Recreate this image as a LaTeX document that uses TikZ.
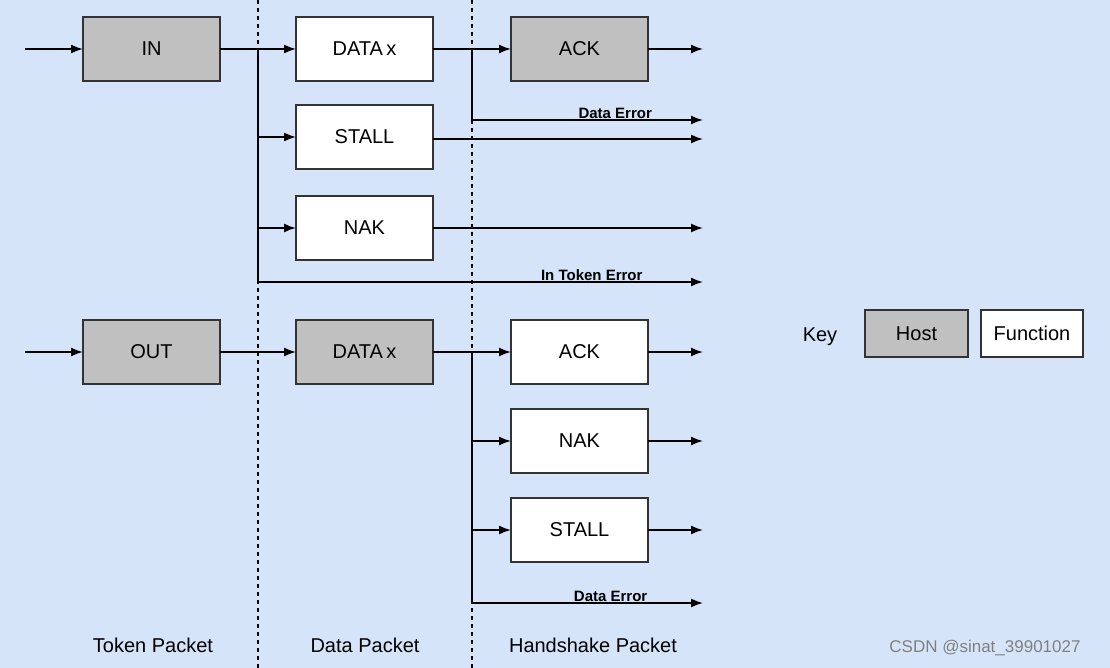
\documentclass[tikz,border=0pt]{standalone}
\usepackage{fontspec}
\setmainfont{Liberation Sans}
\usetikzlibrary{arrows.meta}
\definecolor{bg}{HTML}{D6E4FA}
\definecolor{hostc}{HTML}{C0C0C0}
\begin{document}
\begin{tikzpicture}[x=1pt,y=-1pt,
  box/.style={draw=black!80,line width=1.6pt,minimum width=137pt,minimum height=64pt,inner sep=0pt,outer sep=0pt,font=\fontsize{20}{24}\selectfont,anchor=north west},
  host/.style={box,fill=hostc},
  fn/.style={box,fill=white},
  ar/.style={-{Latex[length=12pt,width=9pt]},line width=1.6pt},
  ln/.style={line width=1.6pt},
  sm/.style={font=\fontsize{15}{17}\selectfont\bfseries,inner sep=1pt,anchor=south}]
\fill[bg] (0,0) rectangle (1110,668);
\useasboundingbox (0,0) rectangle (1110,668);
\draw[dashed,line width=1.5pt,dash pattern=on 4pt off 4pt] (258,0) -- (258,668) (472,0) -- (472,668);
% nodes
\node[host] (in) at (83,17) {IN};
\node[fn] (d1) at (296,17) {DATA\,x};
\node[host] (a1) at (511,17) {ACK};
\node[fn] (s1) at (296,105) {STALL};
\node[fn] (n1) at (296,196) {NAK};
\node[host] (out) at (83,320) {OUT};
\node[host] (d2) at (296,320) {DATA\,x};
\node[fn] (a2) at (511,320) {ACK};
\node[fn] (n2) at (511,409) {NAK};
\node[fn] (s2) at (511,498) {STALL};
% coordinates
\coordinate (x0) at (25,0);
\coordinate (xa) at (258,0);
\coordinate (xb) at (472,0);
\coordinate (i1) at (in.west -| x0);
\coordinate (i2) at (out.west -| x0);
\coordinate (j1) at (in.east -| xa);
\coordinate (j1b) at (258,282);
\coordinate (e1) at (703,282);
\coordinate (j2) at (d1.east -| xb);
\coordinate (j2b) at (472,120);
\coordinate (e2) at (703,120);
\coordinate (j3) at (d2.east -| xb);
\coordinate (j3b) at (472,603);
\coordinate (e3) at (703,603);
% top
\draw[ar] (i1) -- (in.west);
\draw[ln] (in.east) -- (j1);
\draw[ar] (j1) -- (d1.west);
\draw[ln] (j1) -- (j1b);
\draw[ar] (j1 |- s1.west) -- (s1.west);
\draw[ar] (j1 |- n1.west) -- (n1.west);
\draw[ar] (j1b) -- (e1) node[sm,pos=0.75,above=0pt] {In Token Error};
\draw[ln] (d1.east) -- (j2);
\draw[ar] (j2) -- (a1.west);
\draw[ln] (j2) -- (j2b);
\draw[ar] (j2b) -- (e2) node[sm,pos=0.62,above=0pt] {Data Error};
\draw[ar] (a1.east) -- (a1.east -| e1);
\draw[ar] ([yshift=-2pt]s1.east) -- ([yshift=-2pt]s1.east -| e1);
\draw[ar] (n1.east) -- (n1.east -| e1);
% bottom
\draw[ar] (i2) -- (out.west);
\draw[ar] (out.east) -- (d2.west);
\draw[ln] (d2.east) -- (j3);
\draw[ar] (j3) -- (a2.west);
\draw[ln] (j3) -- (j3b);
\draw[ar] (j3 |- n2.west) -- (n2.west);
\draw[ar] (j3 |- s2.west) -- (s2.west);
\draw[ar] (j3b) -- (e3) node[sm,pos=0.6,above=0pt] {Data Error};
\draw[ar] (a2.east) -- (a2.east -| e1);
\draw[ar] (n2.east) -- (n2.east -| e1);
\draw[ar] (s2.east) -- (s2.east -| e1);
% labels
\node[font=\fontsize{20}{24}\selectfont] (t1) at (153,645) {Token Packet};
\node[font=\fontsize{20}{24}\selectfont] (t2) at (365,645) {Data Packet};
\node[font=\fontsize{20}{24}\selectfont] (t3) at (593,645) {Handshake Packet};
% key
\node[font=\fontsize{20}{24}\selectfont] (key) at (820,337) {Key};
\node[host,minimum width=103pt,minimum height=47pt] (kh) at (865,310) {Host};
\node[fn,minimum width=102pt,minimum height=47pt] (kf) at (981,310) {Function};
\node[font=\fontsize{17}{20}\selectfont,text=gray] (wm) at (985,648) {CSDN @sinat\_39901027};
\end{tikzpicture}
\end{document}
